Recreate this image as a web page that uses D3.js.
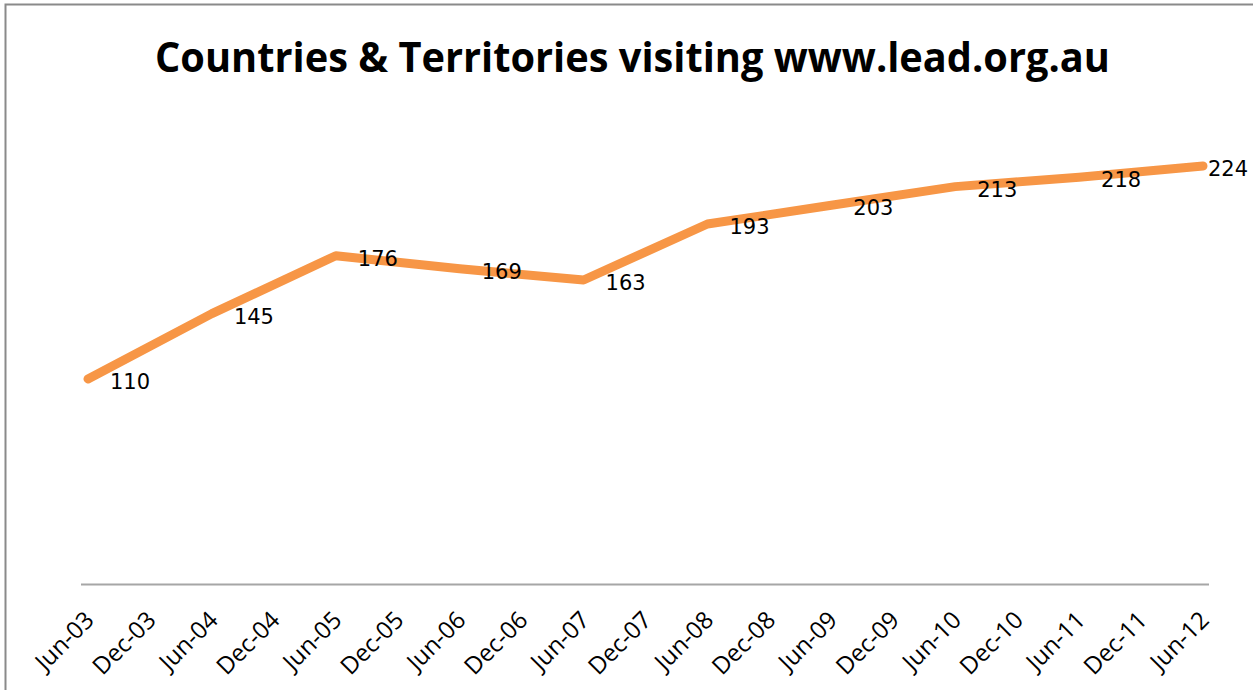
<!DOCTYPE html>
<html>
<head>
<meta charset="utf-8">
<script src="https://cdn.jsdelivr.net/npm/d3@7/dist/d3.min.js"></script>
<style>
  html, body { margin: 0; padding: 0; background: #fff; }
  svg { display: block; }
</style>
</head>
<body>
<svg id="chart" width="1253" height="690"></svg>
<script>
const title = "Countries & Territories visiting www.lead.org.au";
const categories = ["Jun-03","Dec-03","Jun-04","Dec-04","Jun-05","Dec-05","Jun-06","Dec-06","Jun-07","Dec-07","Jun-08","Dec-08","Jun-09","Dec-09","Jun-10","Dec-10","Jun-11","Dec-11","Jun-12"];
const values = [110,null,145,null,176,null,169,null,163,null,193,null,203,null,213,null,218,null,224];
const yDomain = [0, 250];

const W = 1253, H = 690;
const plot = { left: 81, right: 1209, top: 117.5, bottom: 584.5 };

const svg = d3.select("#chart");

// chart border
svg.append("rect")
  .attr("x", 5.5).attr("y", 4.5)
  .attr("width", W + 20).attr("height", H + 20)
  .attr("fill", "#fff").attr("stroke", "#8a8a8a").attr("stroke-width", 2);

// title
svg.append("text")
  .attr("x", 155).attr("y", 72)
  .attr("font-family", "'Open Sans', sans-serif")
  .attr("font-weight", "bold")
  .attr("font-size", 42)
  .attr("textLength", 955)
  .attr("lengthAdjust", "spacingAndGlyphs")
  .attr("fill", "#000")
  .text(title);

const x = d3.scalePoint().domain(categories).range([88, 1203]);
const y = d3.scaleLinear().domain(yDomain).range([plot.bottom, plot.top]);

// category axis
const xAxis = d3.axisBottom(x).tickSize(0).tickPadding(0);
const gx = svg.append("g").attr("transform", `translate(0,${y(0)})`).call(xAxis);
gx.select(".domain").remove();
gx.append("line")
  .attr("x1", plot.left).attr("x2", plot.right)
  .attr("y1", 0).attr("y2", 0)
  .attr("stroke", "#a6a6a6").attr("stroke-width", 2);
gx.selectAll(".tick text")
  .attr("font-family", "'Open Sans', sans-serif")
  .attr("font-size", 24)
  .attr("fill", "#000")
  .attr("text-anchor", "end")
  .attr("dy", null)
  .attr("y", null)
  .attr("transform", "translate(7,37) rotate(-45)");

// line
const pts = categories.map((c, i) => ({ c, v: values[i] })).filter(d => d.v != null);
const line = d3.line().x(d => x(d.c)).y(d => y(d.v));
svg.append("path")
  .datum(pts)
  .attr("d", line)
  .attr("fill", "none")
  .attr("stroke", "#F79646")
  .attr("stroke-width", 9)
  .attr("stroke-linecap", "round")
  .attr("stroke-linejoin", "round");

// data labels
const labels = svg.append("g")
  .selectAll("text")
  .data(pts)
  .join("text")
  .attr("font-family", "'DejaVu Sans', sans-serif")
  .attr("font-size", 21)
  .attr("fill", "#000")
  .attr("y", d => y(d.v) + 10)
  .text(d => d.v);
labels.each(function(d) {
  const w = this.getComputedTextLength();
  const px = Math.min(x(d.c) + 22, 1248 - w);
  d3.select(this).attr("x", px);
});
</script>
</body>
</html>
